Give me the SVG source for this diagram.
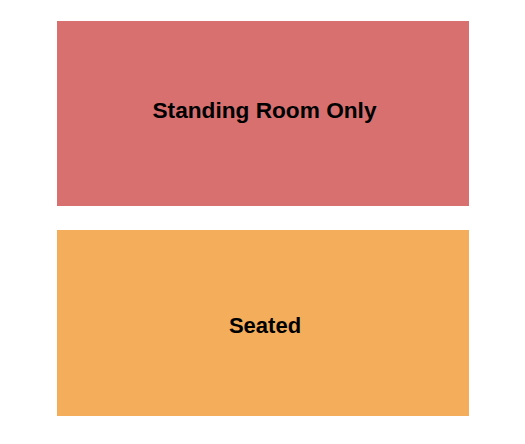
<svg xmlns="http://www.w3.org/2000/svg" width="525" height="444" viewBox="0 0 525 444">
<style>
.lbl{font-family:"Liberation Sans",Arial,sans-serif;font-weight:bold;font-size:22px;fill:#000;text-anchor:middle}
</style>
<rect width="525" height="444" fill="#fff"/>
<g id="standing">
<rect x="57" y="21" width="412" height="185" fill="#D87070"/>
<text class="lbl" x="264.5" y="117.5" textLength="224" lengthAdjust="spacingAndGlyphs">Standing Room Only</text>
</g>
<g id="seated">
<rect x="57" y="230" width="412" height="186" fill="#F4AD5A"/>
<text class="lbl" x="265" y="332.5">Seated</text>
</g>
<g id="connectors"/>
</svg>
